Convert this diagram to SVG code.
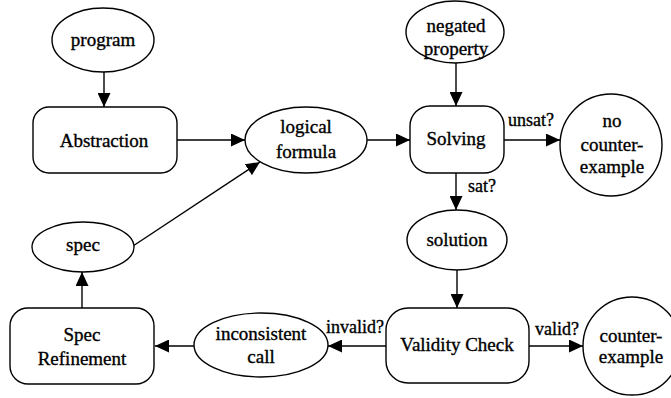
<svg xmlns="http://www.w3.org/2000/svg" width="671" height="398" viewBox="0 0 671 398" font-family="'Liberation Serif', 'DejaVu Serif', serif">
  <style>
    .shape { fill: #fff; stroke: #000; stroke-width: 1.4; }
    .edge { fill: none; stroke: #000; stroke-width: 1.4; marker-end: url(#arrow); }
    text { fill: #000; stroke: #000; stroke-width: 0.35; text-anchor: middle; }
    .node-label { font-size: 19px; }
    .edge-label { font-size: 18px; text-anchor: start; }
  </style>
  <defs>
    <marker id="arrow" markerUnits="userSpaceOnUse" markerWidth="14" markerHeight="13" refX="14" refY="6.5" orient="auto">
      <path d="M0,0 L14,6.5 L0,13 z" fill="#000"/>
    </marker>
  </defs>

  <!-- connectors -->
  <g id="connectors">
    <line class="edge" x1="104" y1="72" x2="104" y2="107"/>
    <line class="edge" x1="177" y1="140" x2="245" y2="140"/>
    <line class="edge" x1="367" y1="140" x2="410" y2="140"/>
    <line class="edge" x1="456" y1="63" x2="456" y2="106"/>
    <line class="edge" x1="504" y1="140" x2="560" y2="140"/>
    <line class="edge" x1="456" y1="173" x2="456" y2="210"/>
    <line class="edge" x1="457" y1="270" x2="457" y2="308"/>
    <line class="edge" x1="529" y1="346" x2="583" y2="346"/>
    <line class="edge" x1="386" y1="346" x2="328" y2="346"/>
    <line class="edge" x1="194" y1="346" x2="155" y2="346"/>
    <line class="edge" x1="82" y1="308" x2="82" y2="272"/>
    <line class="edge" x1="133" y1="246" x2="260" y2="162"/>
    <text class="edge-label" x="508" y="126" font-family="Liberation Serif">unsat?</text>
    <text class="edge-label" x="468" y="192">sat?</text>
    <text class="edge-label" x="326" y="333">invalid?</text>
    <text class="edge-label" x="535" y="335">valid?</text>
  </g>

  <g id="program">
    <ellipse class="shape" cx="103" cy="40" rx="51" ry="32"/>
    <text class="node-label" x="103" y="46">program</text>
  </g>

  <g id="abstraction">
    <rect class="shape" x="33" y="107" width="144" height="66" rx="16"/>
    <text class="node-label" x="104" y="147">Abstraction</text>
  </g>

  <g id="logical-formula">
    <ellipse class="shape" cx="306" cy="140" rx="61" ry="33"/>
    <text class="node-label" x="306" y="133">logical</text>
    <text class="node-label" x="306" y="158">formula</text>
  </g>

  <g id="negated-property">
    <ellipse class="shape" cx="455" cy="32" rx="49" ry="31"/>
    <text class="node-label" x="456" y="32">negated</text>
    <text class="node-label" x="456" y="55">property</text>
  </g>

  <g id="solving">
    <rect class="shape" x="410" y="106" width="94" height="67" rx="20"/>
    <text class="node-label" x="456" y="145">Solving</text>
  </g>

  <g id="no-counterexample">
    <circle class="shape" cx="611" cy="145" r="51"/>
    <text class="node-label" x="612" y="127">no</text>
    <text class="node-label" x="612" y="151">counter-</text>
    <text class="node-label" x="612" y="173">example</text>
  </g>

  <g id="solution">
    <ellipse class="shape" cx="457" cy="240" rx="50" ry="30"/>
    <text class="node-label" x="457" y="246">solution</text>
  </g>

  <g id="validity-check">
    <rect class="shape" x="386" y="308" width="143" height="75" rx="22"/>
    <text class="node-label" x="457" y="351">Validity Check</text>
  </g>

  <g id="counterexample">
    <circle class="shape" cx="632" cy="346" r="49"/>
    <text class="node-label" x="631" y="342">counter-</text>
    <text class="node-label" x="631" y="363">example</text>
  </g>

  <g id="inconsistent-call">
    <ellipse class="shape" cx="261" cy="345" rx="67" ry="32"/>
    <text class="node-label" x="261" y="340">inconsistent</text>
    <text class="node-label" x="261" y="363">call</text>
  </g>

  <g id="spec-refinement">
    <rect class="shape" x="10" y="308" width="144" height="76" rx="18"/>
    <text class="node-label" x="82" y="341">Spec</text>
    <text class="node-label" x="82" y="365">Refinement</text>
  </g>

  <g id="spec">
    <ellipse class="shape" cx="83" cy="247" rx="51" ry="25"/>
    <text class="node-label" x="83" y="251">spec</text>
  </g>
</svg>
